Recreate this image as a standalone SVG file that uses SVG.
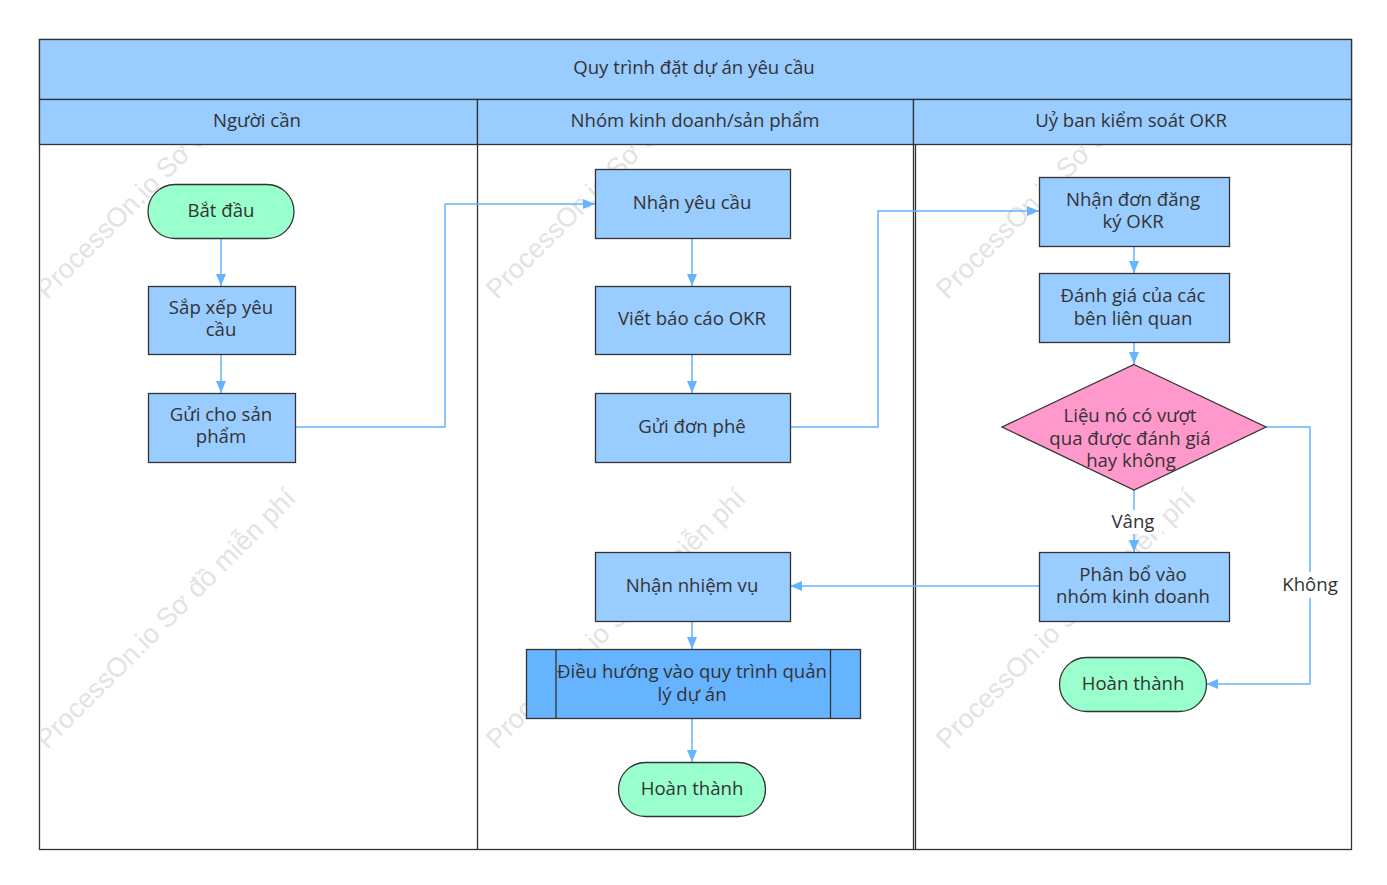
<svg xmlns="http://www.w3.org/2000/svg" width="1387" height="885" viewBox="0 0 1387 885">
<defs>
<style>
.t{font-family:"Open Sans","Noto Sans","DejaVu Sans",sans-serif;font-size:18.6px;fill:#333;text-anchor:middle}
.wm{font-family:"Liberation Sans",Arial,sans-serif;font-size:27px;fill:#e3e3e3}
.proc{fill:#99ccff;stroke:#333;stroke-width:1.3}
.term{fill:#99ffcc;stroke:#333;stroke-width:1.3}
.lane{fill:#fff;stroke:#333;stroke-width:1.3}
.hdr{fill:#99ccff;stroke:#333;stroke-width:1.3}
.c{fill:none;stroke:#66b3ff;stroke-width:1.5}
</style>
<clipPath id="body"><rect x="40" y="144" width="1311" height="705"/></clipPath>
<marker id="ah" viewBox="0 0 12 10" refX="12" refY="5" markerWidth="12" markerHeight="10" markerUnits="userSpaceOnUse" orient="auto">
<path d="M0,0 L12,5 L0,10 Z" fill="#66b3ff"/>
</marker>
</defs>
<rect width="1387" height="885" fill="#fff"/>
<g id="pool">
<rect class="lane" x="39.5" y="39.5" width="1312" height="810"/>
<line x1="477.5" y1="144" x2="477.5" y2="849.5" stroke="#333" stroke-width="1.3"/>
<line x1="913.5" y1="144" x2="913.5" y2="849.5" stroke="#333" stroke-width="1.3"/>
<line x1="915.5" y1="144" x2="915.5" y2="849.5" stroke="#333" stroke-width="1.3"/>
</g>
<g id="watermarks" clip-path="url(#body)">
<text class="wm" transform="translate(47,300) rotate(-45)">ProcessOn.io Sơ đồ miễn phí</text>
<text class="wm" transform="translate(497,300) rotate(-45)">ProcessOn.io Sơ đồ miễn phí</text>
<text class="wm" transform="translate(947,300) rotate(-45)">ProcessOn.io Sơ đồ miễn phí</text>
<text class="wm" transform="translate(47,750) rotate(-45)">ProcessOn.io Sơ đồ miễn phí</text>
<text class="wm" transform="translate(497,750) rotate(-45)">ProcessOn.io Sơ đồ miễn phí</text>
<text class="wm" transform="translate(947,750) rotate(-45)">ProcessOn.io Sơ đồ miễn phí</text>
</g>
<g id="header">
<rect class="hdr" x="39.5" y="39.5" width="1312" height="60"/>
<text class="t" x="694" y="74">Quy trình đặt dự án yêu cầu</text>
</g>
<g id="lane1">
<rect class="hdr" x="39.5" y="99.5" width="438" height="45"/>
<text class="t" x="257" y="127">Người cần</text>
</g>
<g id="lane2">
<rect class="hdr" x="477.5" y="99.5" width="436" height="45"/>
<text class="t" x="695" y="127">Nhóm kinh doanh/sản phẩm</text>
</g>
<g id="lane3">
<rect class="hdr" x="913.5" y="99.5" width="438" height="45"/>
<text class="t" x="1131" y="127">Uỷ ban kiểm soát OKR</text>
</g>
<g id="connectors">
<path class="c" d="M221,238 V286" marker-end="url(#ah)"/>
<path class="c" d="M221,354 V393" marker-end="url(#ah)"/>
<path class="c" d="M295,427 H445 V204 H595" marker-end="url(#ah)"/>
<path class="c" d="M692,238 V286" marker-end="url(#ah)"/>
<path class="c" d="M692,354 V393" marker-end="url(#ah)"/>
<path class="c" d="M790,427 H878 V211 H1039" marker-end="url(#ah)"/>
<path class="c" d="M1134,246 V273" marker-end="url(#ah)"/>
<path class="c" d="M1134,342 V364" marker-end="url(#ah)"/>
<path class="c" d="M1134,490 V552" marker-end="url(#ah)"/>
<path class="c" d="M1266,427 H1310 V684 H1206" marker-end="url(#ah)"/>
<path class="c" d="M1039,586 H790" marker-end="url(#ah)"/>
<path class="c" d="M692,621 V649" marker-end="url(#ah)"/>
<path class="c" d="M692,718 V762" marker-end="url(#ah)"/>
<rect x="1106" y="510" width="56" height="24" fill="#fff"/>
<text class="t" x="1133" y="528">Vâng</text>
<rect x="1280" y="572" width="60" height="26" fill="#fff"/>
<text class="t" x="1310" y="591">Không</text>
</g>
<g id="start">
<rect class="term" x="148" y="184.5" width="146" height="54" rx="27"/>
<text class="t" x="221" y="217">Bắt đầu</text>
</g>
<g id="sort">
<rect class="proc" x="148.5" y="286.5" width="147" height="68"/>
<text class="t" x="221" y="314">Sắp xếp yêu</text>
<text class="t" x="221" y="336">cầu</text>
</g>
<g id="send">
<rect class="proc" x="148.5" y="393.5" width="147" height="69"/>
<text class="t" x="221" y="421">Gửi cho sản</text>
<text class="t" x="221" y="443">phẩm</text>
</g>
<g id="receive">
<rect class="proc" x="595.5" y="169.5" width="195" height="69"/>
<text class="t" x="692" y="209">Nhận yêu cầu</text>
</g>
<g id="write">
<rect class="proc" x="595.5" y="286.5" width="195" height="68"/>
<text class="t" x="692" y="325">Viết báo cáo OKR</text>
</g>
<g id="submit">
<rect class="proc" x="595.5" y="393.5" width="195" height="69"/>
<text class="t" x="692" y="433">Gửi đơn phê</text>
</g>
<g id="task">
<rect class="proc" x="595.5" y="552.5" width="195" height="69"/>
<text class="t" x="692" y="592">Nhận nhiệm vụ</text>
</g>
<g id="redirect">
<rect x="526.5" y="649.5" width="334" height="69" fill="#66b3ff" stroke="#333" stroke-width="1.3"/>
<line x1="556" y1="649.5" x2="556" y2="718.5" stroke="#333" stroke-width="1.3"/>
<line x1="830.5" y1="649.5" x2="830.5" y2="718.5" stroke="#333" stroke-width="1.3"/>
<text class="t" x="692" y="678">Điều hướng vào quy trình quản</text>
<text class="t" x="692" y="701">lý dự án</text>
</g>
<g id="end1">
<rect class="term" x="618.5" y="762.5" width="147" height="54" rx="27"/>
<text class="t" x="692" y="795">Hoàn thành</text>
</g>
<g id="okr">
<rect class="proc" x="1039.5" y="177.5" width="190" height="69"/>
<text class="t" x="1133" y="206">Nhận đơn đăng</text>
<text class="t" x="1133" y="228">ký OKR</text>
</g>
<g id="review">
<rect class="proc" x="1039.5" y="273.5" width="190" height="69"/>
<text class="t" x="1133" y="302">Đánh giá của các</text>
<text class="t" x="1133" y="325">bên liên quan</text>
</g>
<g id="decision">
<polygon points="1134,364.5 1266,427 1134,490 1002,427" fill="#ff99cc" stroke="#333" stroke-width="1.3"/>
<text class="t" x="1130" y="422">Liệu nó có vượt</text>
<text class="t" x="1130" y="445">qua được đánh giá</text>
<text class="t" x="1131" y="467">hay không</text>
</g>
<g id="assign">
<rect class="proc" x="1039.5" y="552.5" width="190" height="69"/>
<text class="t" x="1133" y="581">Phân bổ vào</text>
<text class="t" x="1133" y="603">nhóm kinh doanh</text>
</g>
<g id="end2">
<rect class="term" x="1059.5" y="657.5" width="147" height="54" rx="27"/>
<text class="t" x="1133" y="690">Hoàn thành</text>
</g>
</svg>
